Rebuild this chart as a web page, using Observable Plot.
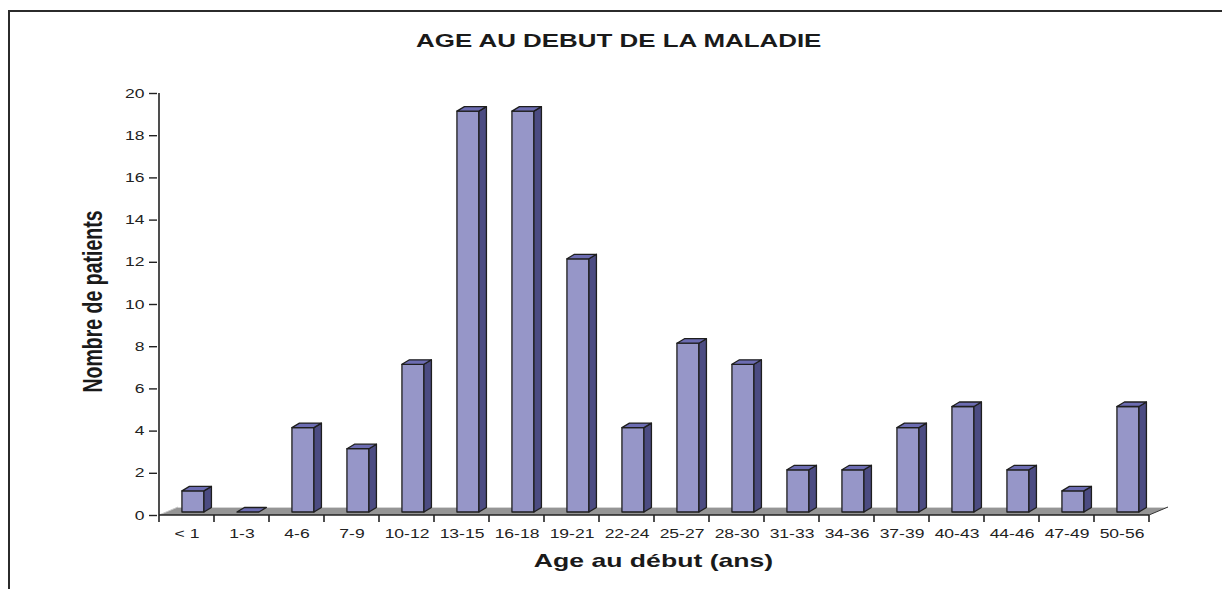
<!DOCTYPE html>
<html><head><meta charset="utf-8">
<script src="https://cdn.jsdelivr.net/npm/d3@7"></script>
<script src="https://cdn.jsdelivr.net/npm/@observablehq/plot@0.6"></script>
<style>
html,body{margin:0;padding:0;background:#fff;overflow:hidden;}
#wrap{position:relative;width:1222px;height:589px;overflow:hidden;font-family:"Liberation Sans",Arial,sans-serif;}
#frame{position:absolute;left:8px;top:10px;width:1400px;height:800px;border-left:2px solid #2b2b2b;border-top:2px solid #2b2b2b;}
#title{position:relative;height:60px;box-sizing:border-box;padding-top:32px;padding-left:16px;text-align:center;font-weight:bold;font-size:18.5px;line-height:18px;color:#1a1a1a;}
#title span{display:inline-block;transform:scaleX(1.4);}
#chart{position:relative;height:529px;}
</style></head><body>
<div id="wrap"><div id="frame"></div><div id="title"><span id="ttl"></span></div><div id="chart"></div></div>
<script>
const categories = ["< 1","1-3","4-6","7-9","10-12","13-15","16-18","19-21","22-24","25-27","28-30","31-33","34-36","37-39","40-43","44-46","47-49","50-56"];
const patients = [1,0,4,3,7,19,19,12,4,8,7,2,2,4,5,2,1,5];
const yTicks = [0,2,4,6,8,10,12,14,16,18,20];
const titleText = "AGE AU DEBUT DE LA MALADIE";
const xLabel = "Age au début (ans)";
const yLabel = "Nombre de patients";

const SX = 1.4;
const data = categories.map((c, i) => ({age: c, n: patients[i]}));
document.getElementById("ttl").textContent = titleText;

const NS = "http://www.w3.org/2000/svg";
function el(name, attrs) {
  const e = document.createElementNS(NS, name);
  for (const k in attrs) e.setAttribute(k, attrs[k]);
  return e;
}
function bwOf(x) {
  return typeof x.bandwidth === "function" ? x.bandwidth() : x.bandwidth;
}
const pts = a => a.map(p => p.join(",")).join(" ");

// floor + axis lines + ticks
function floorMark(index, scales) {
  const {x, y} = scales;
  const bw = bwOf(x);
  const g = el("g", {});
  const x0 = x(categories[0]), x1 = x(categories[categories.length - 1]) + bw, y0 = y(0);
  const fdx = 19, fdy = -8;
  g.appendChild(el("polygon", {points: pts([[x0, y0], [x0 + fdx, y0 + fdy], [x1 + fdx, y0 + fdy], [x1, y0]]), fill: "#959595"}));
  g.appendChild(el("line", {x1: x0 + fdx, y1: y0 + fdy + 0.5, x2: x1 + fdx, y2: y0 + fdy + 0.5, stroke: "#d4d4d4", "stroke-width": 1.2}));
  g.appendChild(el("line", {x1: x0, y1: y0, x2: x0 + fdx, y2: y0 + fdy, stroke: "#c8c8c8", "stroke-width": 1}));
  g.appendChild(el("line", {x1: x1, y1: y0, x2: x1 + fdx, y2: y0 + fdy, stroke: "#333", "stroke-width": 1}));
  // axes
  g.appendChild(el("line", {x1: x0, y1: y0, x2: x1, y2: y0, stroke: "#222", "stroke-width": 1.4}));
  g.appendChild(el("line", {x1: x0, y1: y(20), x2: x0, y2: y0 + 7, stroke: "#222", "stroke-width": 1.6}));
  for (const c of categories.slice(1)) {
    g.appendChild(el("line", {x1: x(c), y1: y0, x2: x(c), y2: y0 + 7, stroke: "#222", "stroke-width": 1.6}));
  }
  g.appendChild(el("line", {x1: x1, y1: y0, x2: x1, y2: y0 + 7, stroke: "#222", "stroke-width": 1.6}));
  return g;
}

// 3D bars
function barsMark(index, scales) {
  const {x, y} = scales;
  const bw = bwOf(x);
  const g = el("g", {stroke: "#1e1e1e", "stroke-width": 1.3, "stroke-linejoin": "round"});
  const dx = 7.5, dy = -4.5, off = 0.417 * bw, w = 0.4 * bw;
  for (const d of data) {
    const xa = x(d.age) + off, xb = xa + w;
    const yb = y(0) - 3, yt = y(d.n) - 3;
    if (d.n > 0) {
      g.appendChild(el("rect", {x: xa, y: yt, width: w, height: yb - yt, fill: "#9696c8"}));
      g.appendChild(el("polygon", {points: pts([[xb, yt], [xb + dx, yt + dy], [xb + dx, yb + dy], [xb, yb]]), fill: "#4b4b82"}));
    }
    g.appendChild(el("polygon", {points: pts([[xa, yt], [xa + dx, yt + dy], [xb + dx, yt + dy], [xb, yt]]), fill: "#6c6cb2"}));
  }
  return g;
}

// axis titles
function labelsMark(index, scales, values, dims) {
  const {y} = scales;
  const g = el("g", {"font-weight": "bold", fill: "#1a1a1a", "font-family": "Liberation Sans, Arial, sans-serif"});
  const cx = (dims.marginLeft + dims.width - dims.marginRight) / 2;
  const tx = el("text", {class: "keep", "text-anchor": "middle", "font-size": 19, transform: `translate(${cx},${y(0) + 52}) scale(${SX},1)`});
  tx.textContent = xLabel;
  g.appendChild(tx);
  const ty = el("text", {class: "keep", "text-anchor": "middle", "font-size": 19.5, transform: `translate(101.5,${y(10) - 2.5}) scale(${SX},1) rotate(-90)`});
  ty.textContent = yLabel;
  g.appendChild(ty);
  return g;
}

const chart = Plot.plot({
  width: 1222, height: 529,
  marginTop: 33, marginBottom: 74, marginLeft: 157, marginRight: 72,
  style: {fontFamily: "Liberation Sans, Arial, sans-serif", fontSize: "12.5px", color: "#222", background: "transparent", overflow: "visible"},
  x: {type: "band", domain: categories, padding: 0, label: null},
  y: {domain: [0, 20], label: null},
  marks: [
    floorMark,
    Plot.axisX({tickSize: 0, tickPadding: 14, label: null, fontSize: 12.5}),
    Plot.axisY({ticks: yTicks, tickSize: 8, tickPadding: 5, label: null, fontSize: 12.5, strokeWidth: 1.4}),
    barsMark,
    labelsMark
  ]
});

document.getElementById("chart").appendChild(chart);
chart.querySelectorAll("text:not(.keep)").forEach(t => {
  const L = t.getComputedTextLength();
  if (L > 0) {
    t.setAttribute("textLength", L * SX);
    t.setAttribute("lengthAdjust", "spacingAndGlyphs");
  }
});
</script>
</body></html>
